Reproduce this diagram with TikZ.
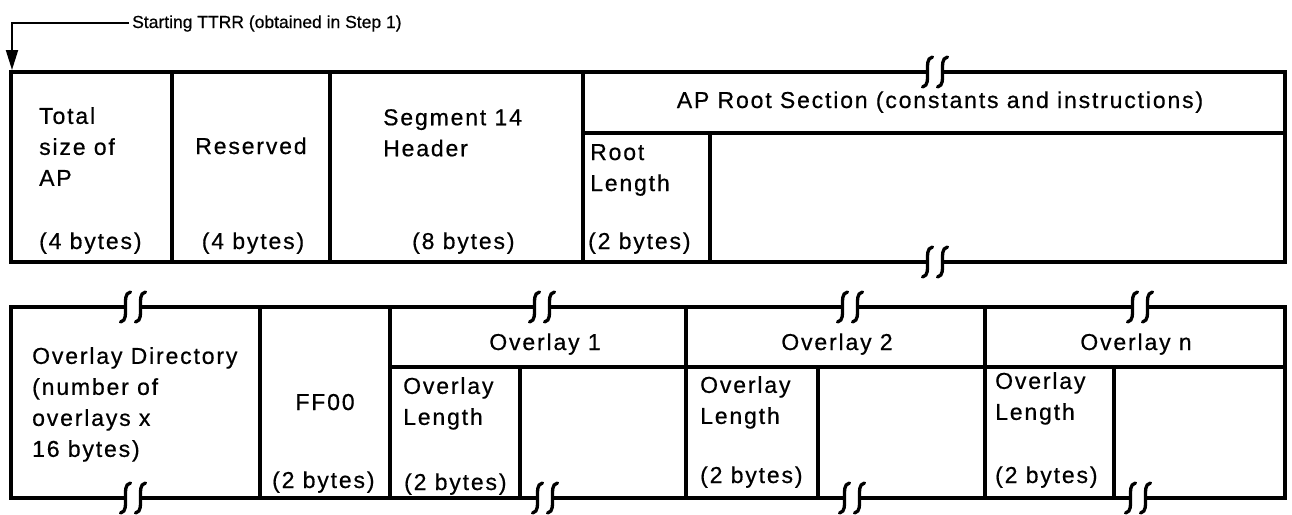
\documentclass[tikz,border=0pt]{standalone}
\usepackage{fontspec}
\setmainfont{Liberation Sans}[LetterSpace=8,FakeBold=0.6]
\newfontfamily\lblfont{Liberation Sans}[FakeBold=0.6]
\usetikzlibrary{arrows.meta}
\newcommand\brkmark[2]{%
  \fill[white] ({#1-6},{#2-3}) rectangle ({#1+6},{#2+3});
  \foreach \d in {-7.5,7.5}{%
    \draw[brkline] ({#1+\d+5},{#2-15}) .. controls ({#1+\d-1},{#2-14}) and ({#1+\d},{#2-6}) .. ({#1+\d},#2)
      .. controls ({#1+\d},{#2+6}) and ({#1+\d+1},{#2+14}) .. ({#1+\d-5},{#2+15});
  }%
}
\begin{document}
\begin{tikzpicture}[x=1pt,y=-1pt,
  boxline/.style={line width=3.3pt, line join=miter},
  brkline/.style={line width=3.3pt, line cap=round},
  txt/.style={inner sep=0pt, font=\fontsize{23}{31}\selectfont, align=left},
  lbl/.style={inner sep=0pt, font=\lblfont\fontsize{17.5}{20}\selectfont}]
\useasboundingbox (0,0) rectangle (1292,514);

% ---- top row ----
\draw[boxline] (11,72) rectangle (1285,262);
\draw[boxline] (172,72) -- (172,262);
\draw[boxline] (330,72) -- (330,262);
\draw[boxline] (583,72) -- (583,262);
\draw[boxline] (583,133) -- (1285,133);
\draw[boxline] (710,133) -- (710,262);
\brkmark{935}{72}
\brkmark{935}{262}

\node[lbl, anchor=base west] (start) at (132,28) {Starting TTRR (obtained in Step 1)};
\coordinate (tip) at (12,70);
\draw[line width=2pt, -{Triangle[length=20pt,width=12pt]}] ([xshift=-3pt]start.west) -| (tip);

\node[txt, anchor=north west] (tsize) at (39,107) {Total\\size of\\AP};
\node[txt, anchor=base west] (tsizeb) at (39,249) {(4 bytes)};
\node[txt, anchor=base] (resv) at (251,154) {Reserved};
\node[txt, anchor=base] (resvb) at (253,249) {(4 bytes)};
\node[txt, anchor=north west] (seg) at (383,109) {Segment 14\\Header};
\node[txt, anchor=base west] (segb) at (412,249) {(8 bytes)};
\node[txt, anchor=base] (root) at (940,108) {AP Root Section (constants and instructions)};
\node[txt, anchor=north west] (rlen) at (590,144) {Root\\Length};
\node[txt, anchor=base west] (rlenb) at (588,249) {(2 bytes)};

% ---- bottom row ----
\draw[boxline] (11,307) rectangle (1285,498);
\draw[boxline] (260,307) -- (260,498);
\draw[boxline] (390,307) -- (390,498);
\draw[boxline] (686,307) -- (686,498);
\draw[boxline] (985,307) -- (985,498);
\draw[boxline] (390,367) -- (1285,367);
\draw[boxline] (520,367) -- (520,498);
\draw[boxline] (818,367) -- (818,498);
\draw[boxline] (1114,367) -- (1114,498);
\brkmark{133}{307}
\brkmark{542}{307}
\brkmark{850}{307}
\brkmark{1140}{307}
\brkmark{133}{498}
\brkmark{545}{498}
\brkmark{852}{498}
\brkmark{1138}{498}

\node[txt, anchor=north west] (odir) at (32,347) {Overlay Directory\\(number of\\overlays x\\16 bytes)};
\node[txt, anchor=base] (ff) at (325,410) {FF00};
\node[txt, anchor=base west] (ffb) at (272,488) {(2 bytes)};
\node[txt, anchor=base] (ov1) at (545,350) {Overlay 1};
\node[txt, anchor=base] (ov2) at (837,350) {Overlay 2};
\node[txt, anchor=base] (ovn) at (1136,350) {Overlay n};
\node[txt, anchor=north west] (l1) at (403,377) {Overlay\\Length};
\node[txt, anchor=base west] (l1b) at (404,490) {(2 bytes)};
\node[txt, anchor=north west] (l2) at (700,376) {Overlay\\Length};
\node[txt, anchor=base west] (l2b) at (700,483) {(2 bytes)};
\node[txt, anchor=north west] (ln) at (995,372) {Overlay\\Length};
\node[txt, anchor=base west] (lnb) at (995,483) {(2 bytes)};
\end{tikzpicture}
\end{document}
